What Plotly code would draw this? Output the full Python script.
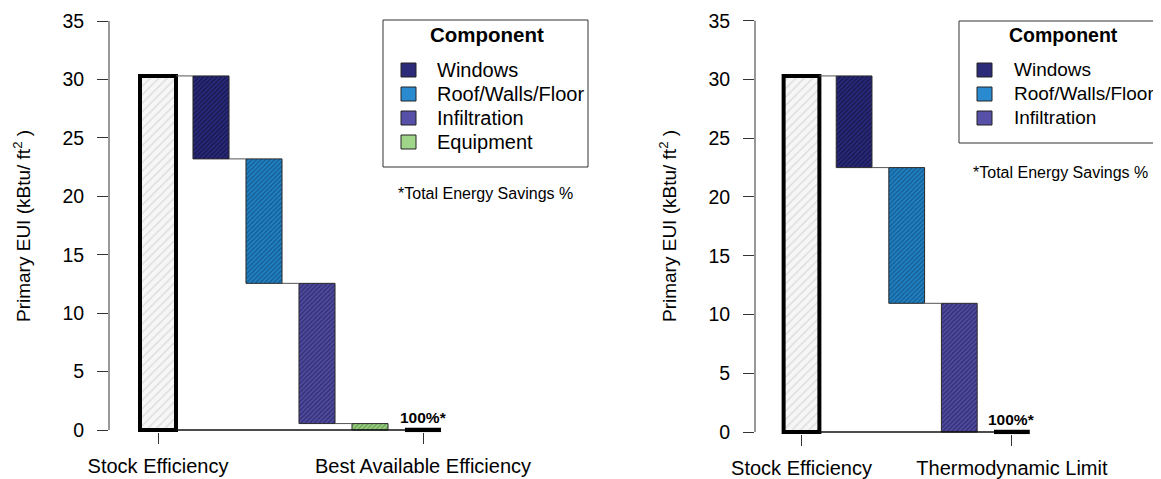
import plotly.graph_objects as go

# ---------------- data ----------------
left_categories = ["Stock Efficiency", "Windows", "Roof/Walls/Floor", "Infiltration",
                   "Equipment", "Best Available Efficiency"]
left_levels = [30.3, 23.2, 12.55, 0.55, 0.0, 0.0]   # EUI remaining after each step

right_categories = ["Stock Efficiency", "Windows", "Roof/Walls/Floor", "Infiltration",
                    "Thermodynamic Limit"]
right_levels = [30.3, 22.5, 10.95, 0.0, 0.0]

components = ["Windows", "Roof/Walls/Floor", "Infiltration", "Equipment"]
comp_colors = {"Windows": "#2b2b84", "Roof/Walls/Floor": "#2287cc",
               "Infiltration": "#5450a6", "Equipment": "#a2d68a"}
comp_hatch = {"Windows": "#08081f", "Roof/Walls/Floor": "#0b3a60",
              "Infiltration": "#18144a", "Equipment": "#3b7a2a"}
legend_colors = {"Windows": "#2b2b7a", "Roof/Walls/Floor": "#2a8ad0",
                 "Infiltration": "#5650a8", "Equipment": "#a0d68a"}

y_ticks = [0, 5, 10, 15, 20, 25, 30, 35]
savings_note = "*Total Energy Savings %"
final_label = "100%*"
y_title = "Primary EUI (kBtu/ ft<sup>2</sup> )"

OFF = 8  # page body margin
W, H = 1161 - OFF, 479 - OFF
FONT = "Liberation Sans, Arial, Helvetica, sans-serif"
BW = 0.68  # bar width


def px(x):
    return (x - OFF) / W


def py(y):
    return 1 - (y - OFF) / H


fig = go.Figure()
shapes = []
annotations = []


def add_panel(cats, levels, xa, ya, ax_px):
    n = len(cats)
    xs = list(range(n))
    # baseline at zero
    fig.add_trace(go.Scatter(x=[xs[0] + BW / 2, xs[-1]], y=[0, 0], mode="lines",
                             line=dict(color="#111111", width=1.5), xaxis=xa, yaxis=ya,
                             showlegend=False, hoverinfo="skip"))
    # connectors
    for i in range(1, n - 1):
        fig.add_trace(go.Scatter(x=[xs[i - 1] + BW / 2, xs[i] - BW / 2],
                                 y=[levels[i - 1], levels[i - 1]], mode="lines",
                                 line=dict(color="#555555", width=1), xaxis=xa, yaxis=ya,
                                 showlegend=False, hoverinfo="skip"))
    # stock bar
    fig.add_trace(go.Bar(x=[xs[0]], y=[levels[0]], base=[0], width=BW, xaxis=xa, yaxis=ya,
                         marker=dict(color="#f6f6f6", line=dict(color="black", width=4),
                                     pattern=dict(shape="/", fgcolor="#c4c4c4", size=6,
                                                  solidity=0.25, fillmode="overlay")),
                         showlegend=False, hoverinfo="skip"))
    # component bars
    for i in range(1, n - 1):
        c = cats[i]
        fig.add_trace(go.Bar(x=[xs[i]], y=[levels[i - 1] - levels[i]], base=[levels[i]],
                             width=BW, xaxis=xa, yaxis=ya,
                             marker=dict(color=comp_colors[c], line=dict(color="#2a2a2a", width=1),
                                         pattern=dict(shape="/", fgcolor=comp_hatch[c], size=3.2,
                                                      solidity=0.55, fillmode="overlay")),
                             showlegend=False, hoverinfo="skip"))
    # final (zero-height) bar
    fig.add_trace(go.Scatter(x=[xs[-1] - BW / 2, xs[-1] + BW / 2], y=[levels[-1], levels[-1]],
                             mode="lines", line=dict(color="black", width=4.5),
                             xaxis=xa, yaxis=ya, showlegend=False, hoverinfo="skip"))
    # final label
    annotations.append(dict(x=xs[-1], y=levels[-1], xref=xa, yref=ya, text="<b>" + final_label + "</b>",
                            showarrow=False, yanchor="bottom", yshift=2,
                            font=dict(size=15.5, color="black", family=FONT)))
    # y axis line 0..35
    shapes.append(dict(type="line", xref="paper", yref=ya, x0=px(ax_px), x1=px(ax_px),
                       y0=y_ticks[0], y1=y_ticks[-1], line=dict(color="#333333", width=1)))


add_panel(left_categories, left_levels, "x", "y", 109)
add_panel(right_categories, right_levels, "x2", "y2", 755)


# legends
def legend_box(x0, x1, y0, y1, title_x, sq_x, text_x, rows_y, comps, note_x, note_y, fs):
    shapes.append(dict(type="rect", xref="paper", yref="paper", x0=px(x0), x1=px(x1),
                       y0=py(y1), y1=py(y0), line=dict(color="#333333", width=1),
                       fillcolor="rgba(0,0,0,0)"))
    annotations.append(dict(x=px(title_x), y=py(35), xref="paper", yref="paper",
                            text="<b>Component</b>", showarrow=False, xanchor="center",
                            yanchor="middle", font=dict(size=fs + 0.5, color="black", family=FONT)))
    for c, ry in zip(comps, rows_y):
        shapes.append(dict(type="rect", xref="paper", yref="paper", x0=px(sq_x), x1=px(sq_x + 15),
                           y0=py(ry + 7), y1=py(ry - 7), fillcolor=legend_colors[c],
                           line=dict(color="#222222", width=1)))
        annotations.append(dict(x=px(text_x), y=py(ry), xref="paper", yref="paper", text=c,
                                showarrow=False, xanchor="left", yanchor="middle",
                                font=dict(size=fs, color="black", family=FONT)))
    annotations.append(dict(x=px(note_x), y=py(note_y), xref="paper", yref="paper",
                            text=savings_note, showarrow=False, xanchor="left", yanchor="middle",
                            font=dict(size=16, color="black", family=FONT)))


legend_box(383, 588, 20, 167, 487, 401, 435, [70, 94, 118, 142], components, 396, 193, 20)
legend_box(959, 1175, 21, 143, 1063, 977, 1012, [70, 94, 118], components[:3], 971, 173, 19)

# y titles
for xpos in (22, 668):
    annotations.append(dict(x=px(xpos), y=py(226), xref="paper", yref="paper", text=y_title,
                            textangle=-90, showarrow=False, xanchor="center", yanchor="middle",
                            font=dict(size=19, color="black", family=FONT)))


# axes geometry
def xrange(axis_px, right_px, first_center, spacing):
    return [(axis_px - first_center) / spacing, (right_px - first_center) / spacing]


def ydomain(px0, px35, lo, hi):
    s = (px0 - px35) / 35.0
    return [py(px0 - lo * s), py(px35 - (hi - 35) * s)]


ylo, yhi = -0.2, 35.3
axis_common = dict(showgrid=False, zeroline=False, showline=False, automargin=False)
tick_common = dict(ticks="outside", ticklen=11, tickcolor="#333333", tickwidth=1)
xfont = dict(size=20, family=FONT, color="black")
yfont = dict(size=19.5, family=FONT, color="black")

fig.update_layout(
    width=W, height=H, autosize=False,
    margin=dict(l=0, r=0, t=0, b=0, pad=0),
    paper_bgcolor="white", plot_bgcolor="white",
    font=dict(family=FONT, size=19, color="black"),
    barmode="overlay",
    xaxis=dict(domain=[px(109), px(590)], range=xrange(109, 590, 158, 53),
               tickvals=[0, len(left_categories) - 1],
               ticktext=[left_categories[0], left_categories[-1]], tickfont=xfont,
               ticklabelstandoff=5, anchor="y", **tick_common, **axis_common),
    yaxis=dict(domain=ydomain(430, 21, ylo, yhi), range=[ylo, yhi], tickvals=y_ticks,
               tickfont=yfont, ticklabelstandoff=9,
               anchor="x", **tick_common, **axis_common),
    xaxis2=dict(domain=[px(755), 1.0], range=xrange(755, 1161, 801.5, 52.6),
                tickvals=[0, len(right_categories) - 1],
                ticktext=[right_categories[0], right_categories[-1]], tickfont=xfont,
                ticklabelstandoff=5, anchor="y2", **tick_common, **axis_common),
    yaxis2=dict(domain=ydomain(432, 20.7, ylo, yhi), range=[ylo, yhi], tickvals=y_ticks,
                tickfont=yfont, ticklabelstandoff=9,
                anchor="x2", **tick_common, **axis_common),
    shapes=shapes,
    annotations=annotations,
)

fig.write_html("out.html")
